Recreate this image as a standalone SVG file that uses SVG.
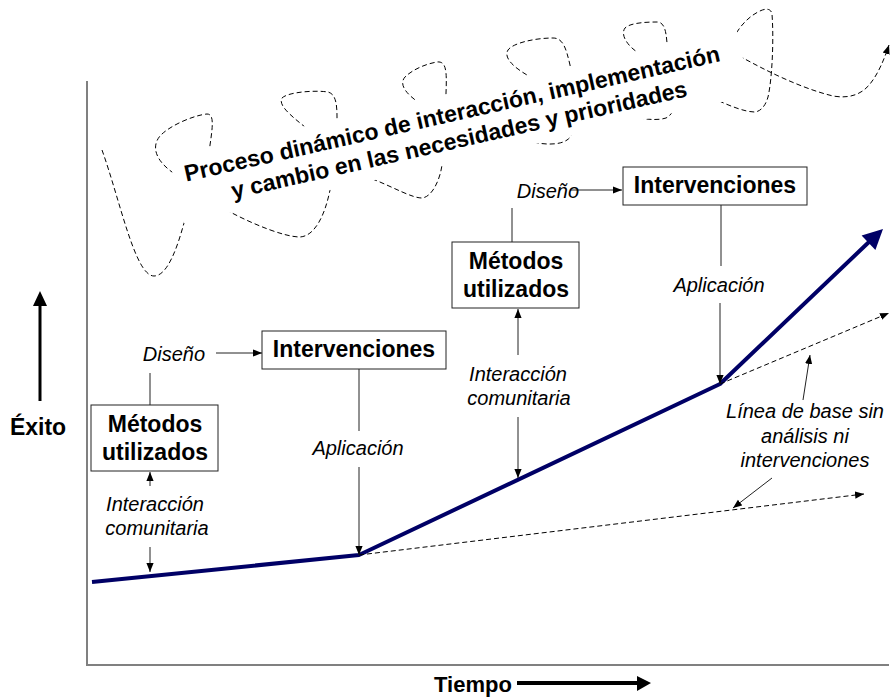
<svg xmlns="http://www.w3.org/2000/svg" width="891" height="699" viewBox="0 0 891 699">
<style>
.bold{font-family:"Liberation Sans",Arial,sans-serif;font-weight:bold;font-size:23px;fill:#000;text-anchor:middle}
.ital{font-family:"Liberation Sans",Arial,sans-serif;font-style:italic;font-size:20px;fill:#000;text-anchor:middle}
.box{fill:#fff;stroke:#222;stroke-width:1}
.thin{stroke:#222;stroke-width:1;fill:none}
.dash{stroke:#000;stroke-width:1;fill:none;stroke-dasharray:5,3}
.axis{stroke:#808080;stroke-width:2;fill:none}
.main{stroke:#000066;stroke-width:4;fill:none;stroke-linejoin:round}
</style>
<defs>
<marker id="ah" viewBox="0 0 10 10" refX="10" refY="5" markerWidth="9" markerHeight="9" markerUnits="userSpaceOnUse" orient="auto"><path d="M0,1 L10,5 L0,9 z" fill="#000"/></marker>
</defs>
<rect width="891" height="699" fill="#fff"/>

<!-- dynamic process squiggle -->
<g id="squiggle">
<path class="dash" marker-end="url(#ah)" d="M102,150 C120,200 135,276 154,276 C168,276 178,245 184,223 C190,200 185,182 172,172 C158,162 150,148 160,136 C170,125 195,115 207,114 C214,114 213,125 210,145 C207,175 215,205 232,213 C255,225 285,237 300,237 C315,236 325,215 330,190 C334,165 320,140 305,127 C290,115 278,105 282,98 C288,92 315,90 328,92 C336,94 337,105 337,117 C337,150 350,172 375,180 C395,188 412,198 422,198 C432,197 440,180 442,165 C445,140 432,115 418,102 C408,95 398,85 405,77 C412,70 425,64 437,62 C446,61 447,70 446,93 C445,130 470,145 533,142 C545,145 560,145 567,140 C570,138 571,136 572,133 C575,110 545,85 527,75 C515,68 503,58 508,50 C513,43 535,38 553,38 C563,38 566,48 570,65 C575,95 605,112 640,118 C650,120 660,120 666,118 C670,116 672,113 673,110 C676,90 655,62 637,52 C628,46 620,35 625,28 C630,23 645,22 657,22 C664,22 666,30 667,43 C670,70 690,90 717,100 C730,106 745,112 755,112 C762,111 766,104 768,97 C772,80 774,40 772,14 C771,8 765,8 758,12 C750,16 742,24 737,32 C730,42 728,50 743,58 C765,70 800,88 833,96 C850,99 862,94 870,84 C878,74 884,60 889,45"/>
</g>
<g id="title" transform="translate(460,126) rotate(-12.7)">
<rect x="-291" y="-34" width="582" height="68" fill="#fff"/>
<text class="bold" x="-5" y="-6">Proceso dinámico de interacción, implementación</text>
<text class="bold" x="-4" y="21">y cambio en las necesidades y prioridades</text>
</g>

<!-- axes -->
<g id="axes">
<line class="axis" x1="87" y1="81" x2="87" y2="665"/>
<line class="axis" x1="86" y1="665" x2="889" y2="665"/>
<line x1="40" y1="401" x2="40" y2="304" stroke="#000" stroke-width="3"/>
<polygon points="40,291 33,306 47,306" fill="#000"/>
<text class="bold" x="38" y="435">Éxito</text>
<line x1="517" y1="683" x2="639" y2="683" stroke="#000" stroke-width="4"/>
<polygon points="651,683 637,676 637,691" fill="#000"/>
<text class="bold" x="473" y="692" style="font-size:22px">Tiempo</text>
</g>

<!-- connectors -->
<g id="connectors">
<polyline class="main" points="92,582 359,555 720,384 870,241"/>
<polygon points="883,229 875.4,250 861.6,235.6" fill="#000066"/>
<line class="dash" x1="359" y1="555" x2="864" y2="494" marker-end="url(#ah)"/>
<line class="dash" x1="720" y1="384" x2="889" y2="313" marker-end="url(#ah)"/>
<line class="thin" x1="150" y1="373" x2="150" y2="405"/>
<line class="thin" x1="216" y1="353" x2="262" y2="353" marker-end="url(#ah)"/>
<line class="thin" x1="359" y1="369" x2="359" y2="431"/>
<line class="thin" x1="359" y1="467" x2="359" y2="555" marker-end="url(#ah)"/>
<line class="thin" x1="150" y1="486" x2="150" y2="472" marker-end="url(#ah)"/>
<line class="thin" x1="150" y1="547" x2="150" y2="572" marker-end="url(#ah)"/>
<line class="thin" x1="512" y1="208" x2="512" y2="242"/>
<line class="thin" x1="570" y1="190" x2="622" y2="190" marker-end="url(#ah)"/>
<line class="thin" x1="721" y1="205" x2="721" y2="266"/>
<line class="thin" x1="720" y1="303" x2="720" y2="384" marker-end="url(#ah)"/>
<line class="thin" x1="518" y1="355" x2="518" y2="309" marker-end="url(#ah)"/>
<line class="thin" x1="518" y1="417" x2="518" y2="478" marker-end="url(#ah)"/>
<line class="thin" x1="803" y1="400" x2="810" y2="355" marker-end="url(#ah)"/>
<line class="thin" x1="772" y1="478" x2="733" y2="508" marker-end="url(#ah)"/>
</g>

<!-- nodes -->
<g id="metodos1">
<rect class="box" x="91" y="405" width="127" height="66"/>
<text class="bold" x="155" y="432">Métodos</text>
<text class="bold" x="155" y="460">utilizados</text>
</g>
<g id="diseno1"><text class="ital" x="174" y="361">Diseño</text></g>
<g id="intervenciones1">
<rect class="box" x="262" y="331" width="184" height="38"/>
<text class="bold" x="354" y="357">Intervenciones</text>
</g>
<g id="aplicacion1"><text class="ital" x="358" y="455">Aplicación</text></g>
<g id="interaccion1">
<text class="ital" x="155" y="511">Interacción</text>
<text class="ital" x="157" y="535">comunitaria</text>
</g>
<g id="metodos2">
<rect class="box" x="452" y="242" width="127" height="66"/>
<text class="bold" x="516" y="269">Métodos</text>
<text class="bold" x="516" y="297">utilizados</text>
</g>
<g id="diseno2"><text class="ital" x="548" y="198">Diseño</text></g>
<g id="intervenciones2">
<rect class="box" x="623" y="167" width="184" height="38"/>
<text class="bold" x="715" y="193">Intervenciones</text>
</g>
<g id="aplicacion2"><text class="ital" x="719" y="292">Aplicación</text></g>
<g id="interaccion2">
<text class="ital" x="518" y="381">Interacción</text>
<text class="ital" x="519" y="405">comunitaria</text>
</g>
<g id="baseline-label">
<text class="ital" x="805" y="418">Línea de base sin</text>
<text class="ital" x="805" y="443">análisis ni</text>
<text class="ital" x="805" y="467">intervenciones</text>
</g>
</svg>
